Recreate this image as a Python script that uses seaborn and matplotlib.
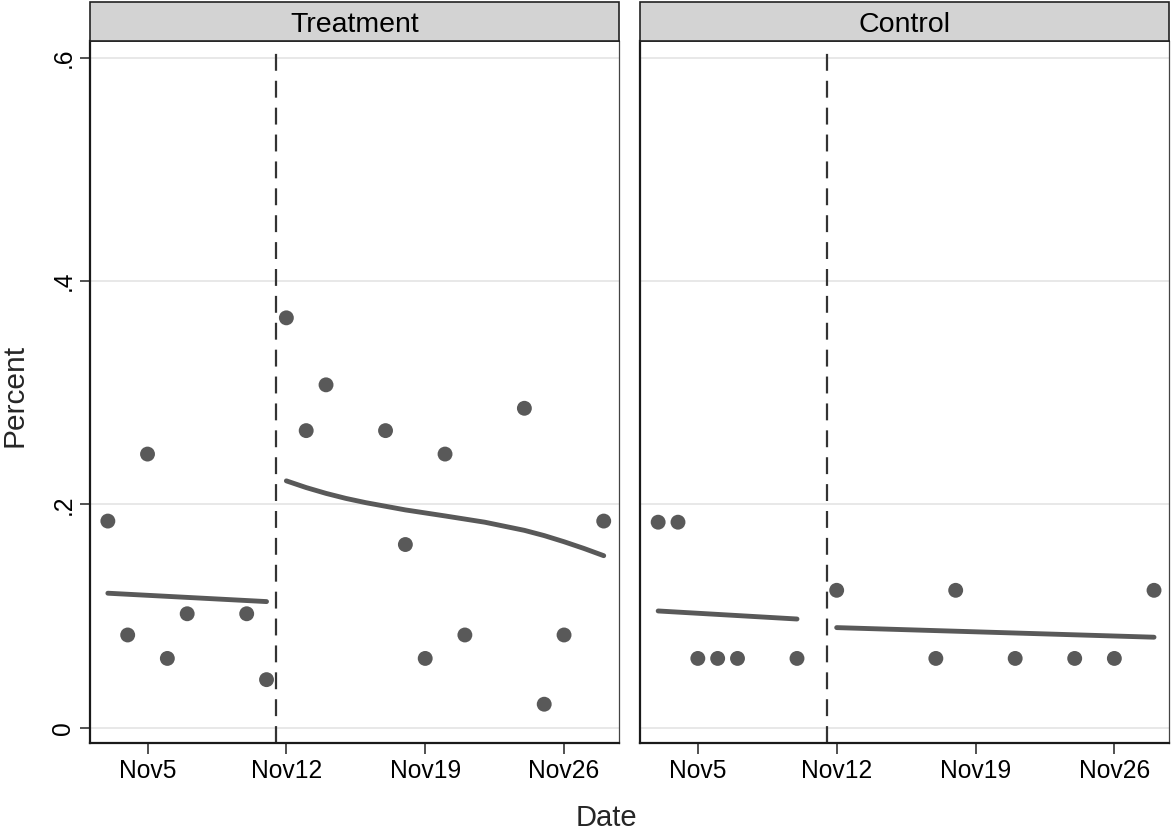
import numpy as np
import pandas as pd
import matplotlib
matplotlib.use("Agg")
import matplotlib.pyplot as plt
import seaborn as sns
from matplotlib.patches import Rectangle

# ---------------- data (day of November) ----------------
groups = ["Treatment", "Control"]

treat_days = [3, 4, 5, 6, 7, 10, 11, 12, 13, 14, 17, 18, 19, 20, 21, 24, 25, 26, 28]
treat_vals = [0.185, 0.083, 0.245, 0.062, 0.102, 0.102, 0.043, 0.367, 0.266, 0.307,
              0.266, 0.164, 0.062, 0.245, 0.083, 0.286, 0.021, 0.083, 0.185]

ctrl_days = [3, 4, 5, 6, 7, 10, 12, 17, 18, 21, 24, 26, 28]
ctrl_vals = [0.184, 0.184, 0.062, 0.062, 0.062, 0.062, 0.123, 0.062, 0.123,
             0.062, 0.062, 0.062, 0.123]

# fitted lines
treat_pre_days = [3, 11]
treat_pre_fit = [0.1204, 0.1129]
treat_post_days = [12, 13, 14, 15, 16, 18, 20, 22, 24, 25, 26, 27, 28]
treat_post_fit = [0.2210, 0.2150, 0.2098, 0.2053, 0.2015, 0.1950, 0.1896, 0.1840,
                  0.1767, 0.1720, 0.1665, 0.1605, 0.1540]
ctrl_pre_days = [3, 10]
ctrl_pre_fit = [0.1045, 0.0973]
ctrl_post_days = [12, 28]
ctrl_post_fit = [0.0896, 0.0810]

cutoff_day = 11.5
tick_days = [5, 12, 19, 26]
tick_labels = ["Nov5", "Nov12", "Nov19", "Nov26"]
ytick_vals = [0, 0.2, 0.4, 0.6]
ytick_labels = ["0", ".2", ".4", ".6"]

df = pd.concat([
    pd.DataFrame({"day": treat_days, "value": treat_vals, "group": "Treatment"}),
    pd.DataFrame({"day": ctrl_days, "value": ctrl_vals, "group": "Control"}),
], ignore_index=True)

fits = {
    "Treatment": [(treat_pre_days, treat_pre_fit), (treat_post_days, treat_post_fit)],
    "Control": [(ctrl_pre_days, ctrl_pre_fit), (ctrl_post_days, ctrl_post_fit)],
}

# ---------------- style ----------------
sns.set_theme(style="white")
plt.rcParams["font.family"] = ["Liberation Sans", "DejaVu Sans"]

W, H = 1172, 831
dot_col = "#595959"

g = sns.FacetGrid(df, col="group", col_order=groups, sharey=True, sharex=True,
                  despine=False)
g.figure.set_size_inches(W / 100, H / 100)
g.figure.set_dpi(100)
g.map_dataframe(sns.scatterplot, x="day", y="value", color=dot_col, s=115,
                edgecolor="none", linewidth=0, zorder=4)

g.figure.subplots_adjust(left=90 / W, right=1169.3 / W, bottom=87.7 / H,
                         top=1 - 41 / H, wspace=0.0403)

for ax, name in zip(g.axes.flat, groups):
    for d, v in fits[name]:
        seg = pd.DataFrame({"day": d, "fit": v})
        sns.lineplot(data=seg, x="day", y="fit", ax=ax, color=dot_col, lw=3.5,
                     estimator=None, sort=True, solid_capstyle="round",
                     solid_joinstyle="round", zorder=3)
    ax.axvline(cutoff_day, ymin=0, ymax=0.992, color="#333333", lw=1.6,
               dashes=(7.6, 4.5), zorder=2)
    ax.set_xlim(2.1, 28.77)
    ax.set_ylim(-0.014, 0.6149)
    ax.set_xticks(tick_days)
    ax.set_xticklabels(tick_labels)
    ax.set_yticks(ytick_vals)
    ax.grid(axis="y", color="#e2e2e2", lw=1.1, zorder=0)
    ax.grid(axis="x", visible=False)
    ax.set_title("")
    ax.set_xlabel("")
    ax.set_ylabel("")
    ax.tick_params(axis="x", length=8, width=1.2, color="#333333", pad=3,
                   labelsize=17.7, labelcolor="black", bottom=True)
    for sp in ["left", "bottom"]:
        ax.spines[sp].set_color("#1a1a1a")
        ax.spines[sp].set_linewidth(1.6)
    ax.spines["right"].set_color("#444444")
    ax.spines["right"].set_linewidth(0.9)
    ax.spines["top"].set_color("#222222")
    ax.spines["top"].set_linewidth(1.2)
    # header strip
    hdr = 39 / 702.3
    ax.add_patch(Rectangle((0, 1), 1, hdr, transform=ax.transAxes, clip_on=False,
                           facecolor="#d3d3d3", edgecolor="#222222", lw=1.2,
                           zorder=5))
    ax.text(0.5, 1 + hdr / 2, name, transform=ax.transAxes, ha="center",
            va="center_baseline", fontsize=20.5, color="black", zorder=6)

ax0, ax1 = g.axes.flat
ax0.set_yticklabels(ytick_labels, rotation=90, va="center")
ax0.tick_params(axis="y", left=True, length=7, width=1.2, color="#333333", pad=3.5,
                labelsize=17.7, labelcolor="black")
ax1.tick_params(axis="y", left=False, labelleft=False)

fig = g.figure
fig.text(606 / W, 1 - 818 / H, "Date", ha="center", va="center", fontsize=21)
fig.text(15 / W, 1 - 395 / H, "Percent", ha="center", va="center", rotation=90,
         fontsize=21.5)

fig.savefig("out.png", dpi=100, facecolor="white")
